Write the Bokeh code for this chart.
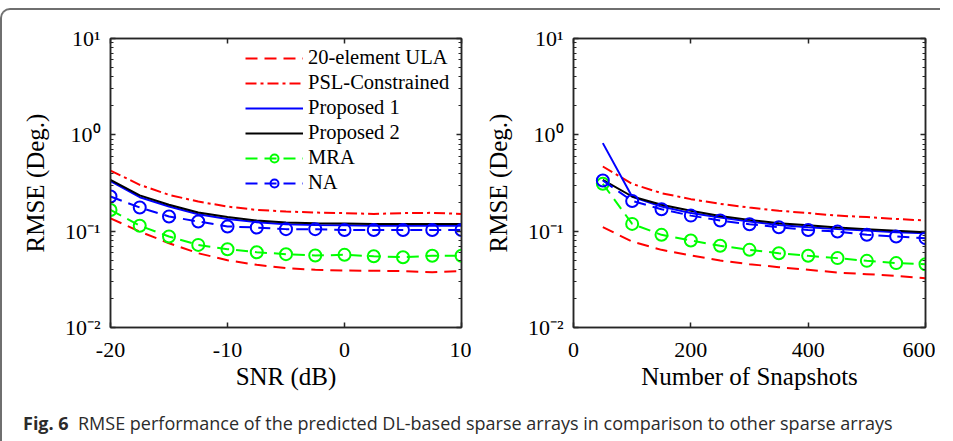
from bokeh.plotting import figure
from bokeh.models import (Range1d, FixedTicker, LinearAxis, LogAxis, Legend,
                          LegendItem, Div, CustomJSTickFormatter)
from bokeh.layouts import row, column
from bokeh.embed import file_html
from bokeh.resources import INLINE

# ---------------- data ----------------
snr = [-20, -17.5, -15, -12.5, -10, -7.5, -5, -2.5, 0, 2.5, 5, 7.5, 10]
ula_snr = [0.136, 0.099, 0.075, 0.059, 0.050, 0.0447, 0.0413, 0.0397, 0.039, 0.0388, 0.0385, 0.0375, 0.0385]
psl_snr = [0.426, 0.303, 0.238, 0.203, 0.180, 0.166, 0.160, 0.156, 0.154, 0.151, 0.154, 0.155, 0.151]
prop1_snr = [0.33, 0.225, 0.180, 0.150, 0.134, 0.124, 0.118, 0.116, 0.115, 0.114, 0.114, 0.114, 0.114]
prop2_snr = [0.341, 0.235, 0.188, 0.156, 0.140, 0.129, 0.123, 0.121, 0.120, 0.119, 0.119, 0.119, 0.119]
mra_snr = [0.166, 0.114, 0.088, 0.072, 0.065, 0.0605, 0.0577, 0.0559, 0.0568, 0.055, 0.0537, 0.0555, 0.0555]
na_snr = [0.229, 0.176, 0.142, 0.126, 0.112, 0.109, 0.105, 0.105, 0.103, 0.103, 0.103, 0.103, 0.103]

snap = [50, 100, 150, 200, 250, 300, 350, 400, 450, 500, 550, 600]
ula_snap = [0.110, 0.078, 0.064, 0.0559, 0.0496, 0.0454, 0.0423, 0.0397, 0.0372, 0.0358, 0.0344, 0.0325]
psl_snap = [0.469, 0.310, 0.248, 0.215, 0.192, 0.176, 0.163, 0.154, 0.145, 0.140, 0.134, 0.129]
prop1_snap = [0.82, 0.228, 0.180, 0.154, 0.139, 0.126, 0.116, 0.110, 0.105, 0.1016, 0.0977, 0.0953]
prop2_snap = [0.341, 0.229, 0.188, 0.163, 0.144, 0.131, 0.121, 0.115, 0.109, 0.105, 0.101, 0.0977]
mra_snap = [0.310, 0.119, 0.0916, 0.080, 0.0705, 0.064, 0.059, 0.0555, 0.0525, 0.0492, 0.0466, 0.0454]
na_snap = [0.336, 0.206, 0.169, 0.145, 0.129, 0.118, 0.110, 0.103, 0.099, 0.0916, 0.088, 0.0846]

legend_labels = ["20-element ULA", "PSL-Constrained", "Proposed 1", "Proposed 2", "MRA", "NA"]
y_tick_vals = [0.01, 0.1, 1, 10]
y_tick_labels = ["10\u207b\u00b2", "10\u207b\u00b9", "10\u2070", "10\u00b9"]
snr_ticks = [-20, -10, 0, 10]
snr_tick_labels = ["-20", "-10", "0", "10"]
snap_ticks = [0, 200, 400, 600]
snap_tick_labels = ["0", "200", "400", "600"]
caption_bold = "Fig. 6"
caption_text = "RMSE performance of the predicted DL-based sparse arrays in comparison to other sparse arrays"

SERIF = "Liberation Serif"
AX = "#262626"

minor = []
for d in y_tick_vals[:-1]:
    for k in range(2, 10):
        minor.append(d * k)


def style_axis(ax, labels=True):
    ax.axis_line_color = AX
    ax.axis_line_width = 1.5
    ax.major_tick_line_color = AX
    ax.major_tick_line_width = 1.5
    ax.major_tick_in = 5
    ax.major_tick_out = 0
    ax.minor_tick_line_color = AX
    ax.minor_tick_line_width = 1.2
    ax.minor_tick_in = 3
    ax.minor_tick_out = 0
    ax.major_label_text_font = SERIF
    ax.major_label_text_color = "black"
    ax.major_label_text_font_size = "22px"
    ax.axis_label_text_font = SERIF
    ax.axis_label_text_font_style = "normal"
    ax.axis_label_text_font_size = "25px"
    ax.axis_label_text_color = "black"
    if not labels:
        ax.major_label_text_font_size = "1px"
        ax.major_label_text_color = None
        ax.major_label_standoff = 0


def lookup_formatter(vals, labs, log):
    code = """
        for (let i = 0; i < vals.length; i++) {
            const a = log ? Math.log10(tick) : tick;
            const b = log ? Math.log10(vals[i]) : vals[i];
            if (Math.abs(a - b) < 1e-6) return labs[i];
        }
        return '';
    """
    return CustomJSTickFormatter(args=dict(vals=vals, labs=labs, log=log), code=code)


def make_fig(x, xr, xticks, xlabs, xlabel, series, ml, w, with_legend):
    p = figure(width=w, height=393, x_range=Range1d(*xr), y_range=Range1d(0.01, 10),
               y_axis_type="log", output_backend="svg", toolbar_location=None,
               min_border_left=ml, min_border_right=10, min_border_top=28, min_border_bottom=76)
    p.grid.visible = False
    p.outline_line_color = AX
    p.outline_line_width = 1.5
    p.background_fill_color = "white"
    p.border_fill_color = None

    xa = p.xaxis[0]
    xa.ticker = FixedTicker(ticks=xticks)
    xa.formatter = lookup_formatter(xticks, xlabs, False)
    style_axis(xa)
    xa.minor_tick_line_color = None
    xa.axis_label = xlabel
    xa.major_label_standoff = 15
    xa.axis_label_standoff = 3

    ya = p.yaxis[0]
    ya.ticker = FixedTicker(ticks=y_tick_vals, minor_ticks=minor)
    ya.formatter = lookup_formatter(y_tick_vals, y_tick_labels, True)
    style_axis(ya)
    ya.axis_label = "RMSE (Deg.)"
    ya.major_label_standoff = 10
    ya.axis_label_standoff = 13

    top = LinearAxis(ticker=FixedTicker(ticks=xticks))
    style_axis(top, labels=False)
    top.minor_tick_line_color = None
    p.add_layout(top, "above")
    right = LogAxis(ticker=FixedTicker(ticks=y_tick_vals, minor_ticks=minor))
    style_axis(right, labels=False)
    p.add_layout(right, "right")

    ula, psl, pr1, pr2, mra, na = series
    r_ula = p.line(x, ula, line_color="#ff0000", line_width=2, line_dash="12 7")
    r_psl = p.line(x, psl, line_color="#ff0000", line_width=2, line_dash="11 4 3 4")
    r_p1 = p.line(x, pr1, line_color="#0000ff", line_width=2)
    r_p2 = p.line(x, pr2, line_color="black", line_width=2)
    r_mral = p.line(x, mra, line_color="#00ff00", line_width=2, line_dash="12 7")
    r_mras = p.scatter(x, mra, marker="circle", size=12, fill_color=None,
                       line_color="#00ff00", line_width=2)
    r_nal = p.line(x, na, line_color="#0000ff", line_width=2, line_dash="12 7")
    r_nas = p.scatter(x, na, marker="circle", size=12, fill_color=None,
                      line_color="#0000ff", line_width=2)

    if with_legend:
        items = [LegendItem(label=legend_labels[0], renderers=[r_ula]),
                 LegendItem(label=legend_labels[1], renderers=[r_psl]),
                 LegendItem(label=legend_labels[2], renderers=[r_p1]),
                 LegendItem(label=legend_labels[3], renderers=[r_p2]),
                 LegendItem(label=legend_labels[4], renderers=[r_mral, r_mras]),
                 LegendItem(label=legend_labels[5], renderers=[r_nal, r_nas])]
        leg = Legend(items=items, location="top_right")
        leg.label_text_font = SERIF
        leg.label_text_font_size = "20.5px"
        leg.label_text_color = "black"
        leg.glyph_width = 58
        leg.glyph_height = 20
        leg.label_height = 20
        leg.label_width = 145
        leg.spacing = 2
        leg.padding = 4
        leg.margin = 8
        leg.label_standoff = 5
        leg.border_line_color = None
        leg.background_fill_alpha = 0
        p.add_layout(leg)
    return p


p1 = make_fig(snr, (-20, 10), snr_ticks, snr_tick_labels, "SNR (dB)",
              [ula_snr, psl_snr, prop1_snr, prop2_snr, mra_snr, na_snr], 108, 469, True)
p2 = make_fig(snap, (0, 600), snap_ticks, snap_tick_labels, "Number of Snapshots",
              [ula_snap, psl_snap, prop1_snap, prop2_snap, mra_snap, na_snap], 102, 464, False)

cap = Div(text='<span style="font-weight:700">%s</span>&nbsp; %s' % (caption_bold, caption_text),
          width=928, height=32,
          styles={"font-family": "Open Sans", "font-size": "18px", "color": "#2b2b2b",
                  "padding-left": "16px", "padding-top": "3px", "white-space": "nowrap"})

layout = column(row(p1, p2), cap,
                styles={"border-left": "2px solid #6f6f6f", "border-top": "2px solid #6f6f6f",
                        "border-top-left-radius": "10px", "margin-top": "8px"})

open("out.html", "w").write(file_html(layout, INLINE))
